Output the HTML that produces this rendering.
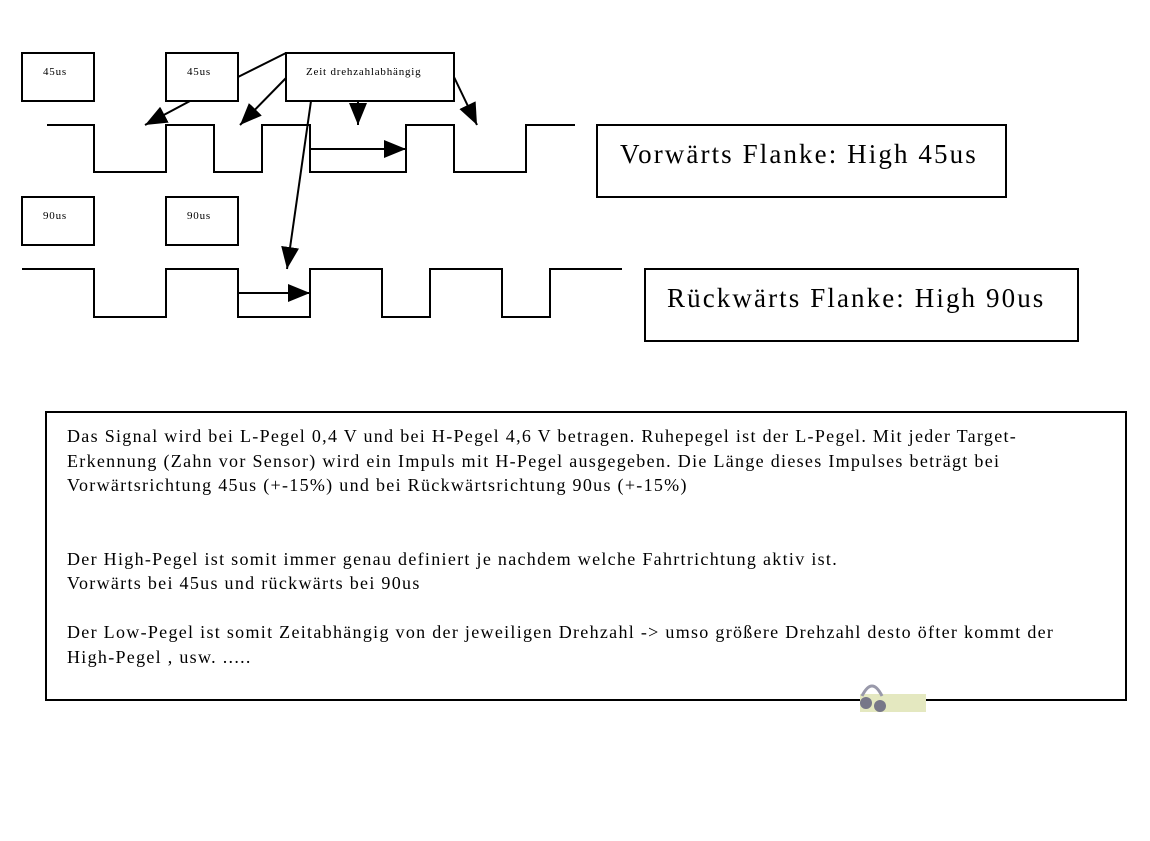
<!DOCTYPE html>
<html><head><meta charset="utf-8"><style>
body{margin:0;width:1150px;height:841px;background:#fff;overflow:hidden;position:relative;font-family:"Liberation Serif",serif}
.t{position:absolute;font-size:18px;line-height:24.5px;left:67px;top:424px;white-space:nowrap;color:#000;letter-spacing:1.3px}
</style></head><body>
<svg width="1150" height="841" style="position:absolute;left:0;top:0">
<defs><marker id="b" markerWidth="22" markerHeight="18" refX="22" refY="9" orient="auto" markerUnits="userSpaceOnUse"><path d="M0,0 L22,9 L0,18z" fill="#000"/></marker></defs>
<g fill="none" stroke="#000" stroke-width="2">
<rect x="22" y="53" width="72" height="48"/>
<rect x="166" y="53" width="72" height="48"/>
<rect x="286" y="53" width="168" height="48"/>
<rect x="22" y="197" width="72" height="48"/>
<rect x="166" y="197" width="72" height="48"/>
<rect x="597" y="125" width="409" height="72"/>
<rect x="645" y="269" width="433" height="72"/>
<rect x="46" y="412" width="1080" height="288"/>
<polyline points="47,125 94,125 94,172 166,172 166,125 214,125 214,172 262,172 262,125 310,125 310,172 406,172 406,125 454,125 454,172 526,172 526,125 575,125"/>
<polyline points="22,269 94,269 94,317 166,317 166,269 238,269 238,317 310,317 310,269 382,269 382,317 430,317 430,269 502,269 502,317 550,317 550,269 622,269"/>
<line x1="238" y1="77" x2="286" y2="53"/>
<line x1="190" y1="101" x2="145" y2="125" marker-end="url(#b)"/>
<line x1="286" y1="78" x2="240" y2="125" marker-end="url(#b)"/>
<line x1="358" y1="101" x2="358" y2="125" marker-end="url(#b)"/>
<line x1="454" y1="77" x2="477" y2="125" marker-end="url(#b)"/>
<line x1="311" y1="101" x2="287" y2="269" marker-end="url(#b)"/>
<line x1="310" y1="149" x2="406" y2="149" marker-end="url(#b)"/>
<line x1="238" y1="293" x2="310" y2="293" marker-end="url(#b)"/>
</g>
<g font-family="Liberation Serif, serif" font-size="11" letter-spacing="0.8">
<text x="43" y="75">45us</text><text x="187" y="75">45us</text>
<text x="306" y="75">Zeit drehzahlabhängig</text>
<text x="43" y="219">90us</text><text x="187" y="219">90us</text>
</g>
<g font-family="Liberation Serif, serif" font-size="27" letter-spacing="2.1">
<text x="620" y="163">Vorwärts Flanke: High 45us</text>
<text x="667" y="307">Rückwärts Flanke: High 90us</text>
</g>
<g>
<rect x="860" y="694" width="66" height="18" fill="#e4e8c0"/>
<circle cx="866" cy="703" r="6" fill="#778" /><circle cx="880" cy="706" r="6" fill="#778"/>
<path d="M862,696 q10,-20 20,0" stroke="#99a" stroke-width="3" fill="none"/>
</g>
</svg>
<div class="t">Das Signal wird bei L-Pegel 0,4 V und bei H-Pegel 4,6 V betragen. Ruhepegel ist der L-Pegel. Mit jeder Target-<br>Erkennung (Zahn vor Sensor) wird ein Impuls mit H-Pegel ausgegeben. Die Länge dieses Impulses beträgt bei<br>Vorwärtsrichtung 45us (+-15%) und bei Rückwärtsrichtung 90us (+-15%)<br><br><br>Der High-Pegel ist somit immer genau definiert je nachdem welche Fahrtrichtung aktiv ist.<br>Vorwärts bei 45us und rückwärts bei 90us<br><br>Der Low-Pegel ist somit Zeitabhängig von der jeweiligen Drehzahl -&gt; umso größere Drehzahl desto öfter kommt der<br>High-Pegel , usw. .....</div>
</body></html>
